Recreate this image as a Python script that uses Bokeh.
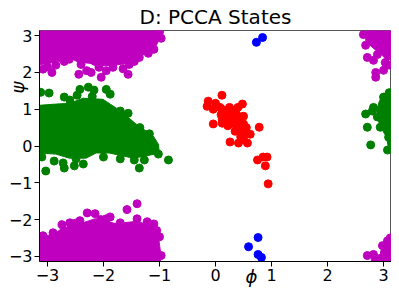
import math
from bokeh.plotting import figure
from bokeh.models import Range1d, FixedTicker
from bokeh.embed import file_html
from bokeh.resources import INLINE

MAG = "#bf00bf"
GRN = "#008000"
RED = "#ff0000"
BLU = "#0000ff"

# ---- data (phi, psi) ----
# dense cores (outline of solidly filled areas)
core_tl_x = [-3.2, -0.98, -0.98, -1.08, -1.2, -1.36, -1.54, -1.8, -2.05, -2.25, -2.45, -2.6, -2.78, -2.95, -3.2]
core_tl_y = [3.2, 3.2, 2.95, 2.68, 2.55, 2.42, 2.25, 2.2, 2.18, 2.25, 2.28, 2.4, 2.35, 2.25, 2.2]
core_gl_x = [-3.2, -2.85, -2.61, -2.36, -2.01, -1.77, -1.63, -1.42, -1.24, -1.11, -1.02, -1.0, -1.24, -1.47, -1.65, -1.9, -2.13, -2.31, -2.61, -2.85, -3.2]
core_gl_y = [1.1, 1.14, 1.16, 1.3, 1.27, 1.03, 0.87, 0.6, 0.41, 0.27, 0.05, -0.19, -0.27, -0.33, -0.27, -0.19, -0.19, -0.33, -0.33, -0.22, -0.19]
core_bl_x = [-3.2, -0.98, -0.98, -1.02, -1.1, -1.25, -1.4, -1.6, -1.75, -1.95, -2.15, -2.35, -2.55, -2.75, -2.9, -3.2]
core_bl_y = [-3.2, -3.2, -2.9, -2.45, -2.2, -2.12, -2.05, -2.08, -2.12, -2.05, -1.98, -2.08, -2.15, -2.25, -2.42, -2.45]
core_tr_x = [2.78, 3.2, 3.2, 3.05, 2.95, 2.85, 2.75, 2.72]
core_tr_y = [3.2, 3.2, 2.35, 2.35, 2.5, 2.62, 2.75, 2.95]
core_gr_x = [2.98, 3.2, 3.2, 3.1, 3.05, 2.95, 2.9, 2.88, 2.92]
core_gr_y = [1.38, 1.42, -0.15, -0.15, 0.25, 0.5, 0.72, 0.95, 1.2]
core_br_x = [2.92, 3.2, 3.2, 3.05, 2.95]
core_br_y = [-3.2, -3.2, -2.5, -2.68, -2.85]

# individual points
mag_x = [-3.08, -2.92, -2.85, -2.76, -2.61, -2.44, -2.40, -2.22, -2.04, -2.08, -1.83, -1.56, -1.54, -1.36, -1.2, -1.1, -0.97, -1.06, -2.30, -2.7, -3.0, -1.65, -1.95, -2.15, -1.45, -1.0, -1.15, -1.3,
         -3.08, -2.90, -2.74, -2.60, -2.42, -2.29, -2.15, -1.95, -1.88, -1.58, -1.40, -1.70, -1.40, -1.22, -1.10, -1.0, -0.97, -1.05, -2.05, -2.5,
         2.64, 2.77, 2.68, 2.71, 2.82, 2.86, 2.86, 3.0, 3.03, 2.89, 2.75, 3.1,
         2.71, 2.82, 2.98, 3.07, 2.95, 3.12, 2.85]
mag_y = [2.09, 2.0, 2.2, 2.4, 2.36, 1.95, 2.22, 2.0, 1.87, 2.14, 2.14, 1.95, 2.22, 2.41, 2.52, 2.63, 2.93, 3.03, 2.05, 2.3, 2.15, 2.1, 2.05, 2.3, 2.3, 3.1, 2.8, 2.6,
         -2.44, -2.36, -2.14, -2.09, -2.03, -1.82, -1.84, -1.98, -1.93, -1.73, -1.57, -2.09, -1.98, -2.06, -2.12, -2.47, -2.98, -2.3, -2.0, -2.1,
         3.03, 3.09, 2.74, 2.41, 2.33, 2.0, 1.87, 2.06, 2.27, 2.49, 2.9, 2.2,
         -2.98, -2.95, -2.71, -2.58, -3.05, -2.5, -3.1]
grn_x = [-3.12, -2.97, -2.70, -2.47, -2.42, -2.27, -2.17, -1.95, -1.88, -1.56, -1.18, -1.15, -3.03, -2.88, -2.72, -2.70, -2.52, -2.36, -2.49, -1.45, -1.36, -1.27, -0.84, -1.02, -2.2, -2.6, -1.7, -1.35, -3.1, -2.0, -1.7,
         3.0, 2.82, 2.68, 2.71, 2.77, 3.07, 3.09, 2.94, 2.89, 2.8, 3.1]
grn_y = [1.46, 1.44, 1.33, 1.38, 1.54, 1.6, 1.52, 1.54, 1.41, 0.89, 0.33, 0.05, -0.68, -0.41, -0.46, -0.6, -0.54, -0.49, -0.35, -0.38, -0.6, -0.38, -0.38, -0.22, 1.35, 1.25, 0.95, 0.5, -0.3, -0.3, -0.35,
         1.33, 1.05, 0.87, 0.51, 0.03, -0.11, 0.24, 0.51, 0.79, 0.95, 1.45]
red_x = [0.115, -0.13, -0.15, 0.0, -0.04, 0.48, 0.50, -0.04, 0.78, 0.26, 0.41, 0.57, 0.62, 0.12,
         0.08, 0.15, 0.2, 0.25, 0.3, 0.35, 0.4, 0.45, 0.5, 0.55, 0.1, 0.18, 0.28, 0.38, 0.45,
         0.3, 0.38, 0.42, 0.5, 0.55, 0.25, 0.35, 0.12, 0.22, 0.35, 0.45, 0.5, 0.4,
         0.75, 0.85, 0.92, 0.89, 0.94]
red_y = [1.38, 1.22, 1.08, 1.16, 1.0, 1.14, 0.81, 0.60, 0.51, 0.11, 0.08, 0.08, 0.32, 0.62,
         1.05, 0.98, 0.9, 0.82, 0.75, 0.68, 0.6, 0.5, 0.42, 0.35, 0.85, 0.75, 0.62, 0.5, 0.35,
         0.95, 0.85, 0.75, 0.6, 0.5, 1.05, 0.98, 0.72, 0.55, 0.4, 0.25, 0.18, 1.05,
         -0.38, -0.30, -0.30, -0.54, -1.03]
blu_x = [0.73, 0.84, 0.59, 0.76, 0.76, 0.82]
blu_y = [2.82, 2.95, -2.74, -2.49, -2.95, -3.03]

ticks = [-3, -2, -1, 0, 1, 2, 3]
tick_labels = ["\u22123", "\u22122", "\u22121", "0", "1", "2", "3"]

p = figure(width=391, height=292, output_backend="svg", toolbar_location=None,
           x_range=Range1d(-math.pi, math.pi), y_range=Range1d(-math.pi, math.pi),
           min_border_left=39, min_border_right=0, min_border_top=29, min_border_bottom=31)
p.title.text = "D: PCCA States"
p.title.align = "center"
p.title.text_font = "DejaVu Sans"
p.title.text_font_size = "20px"
p.title.text_font_style = "normal"
p.title.text_color = "black"
p.title.standoff = 4

p.grid.visible = False
p.outline_line_color = "#555555"
p.outline_line_width = 1
p.background_fill_color = "white"
p.border_fill_color = "white"

for ax in (p.xaxis[0], p.yaxis[0]):
    ax.ticker = FixedTicker(ticks=ticks)
    ax.major_label_overrides = {t: l for t, l in zip(ticks, tick_labels)}
    ax.major_label_text_font = "DejaVu Sans"
    ax.major_label_text_font_size = "16px"
    ax.major_label_text_color = "black"
    ax.axis_line_color = "black"
    ax.major_tick_line_color = "black"
    ax.major_tick_out = 5
    ax.major_tick_in = 0
    ax.minor_tick_line_color = None
    ax.major_label_standoff = 2
    ax.axis_label_text_font = "DejaVu Sans"
    ax.axis_label_text_font_size = "18px"
    ax.axis_label_text_font_style = "italic"
    ax.axis_label_text_color = "black"

# axis labels, nudged along the axis with em spaces to sit where the reference has them
p.xaxis[0].axis_label = "\u2003" * 4 + "\u03d5"
p.xaxis[0].axis_label_standoff = -18
p.yaxis[0].axis_label = "\u2003" * 6 + "\u2002" + "\u03c8"
p.yaxis[0].axis_label_standoff = -22

cores = [(core_tl_x, core_tl_y, MAG), (core_bl_x, core_bl_y, MAG), (core_tr_x, core_tr_y, MAG),
         (core_br_x, core_br_y, MAG), (core_gl_x, core_gl_y, GRN), (core_gr_x, core_gr_y, GRN)]
for cx, cy, c in cores:
    p.patch(cx, cy, fill_color=c, line_color=c, line_width=1)

p.scatter(mag_x, mag_y, size=8, color=MAG)
p.scatter(grn_x, grn_y, size=8, color=GRN)
p.scatter(red_x, red_y, size=8, color=RED)
p.scatter(blu_x, blu_y, size=8, color=BLU)

open("out.html", "w").write(file_html(p, INLINE))
